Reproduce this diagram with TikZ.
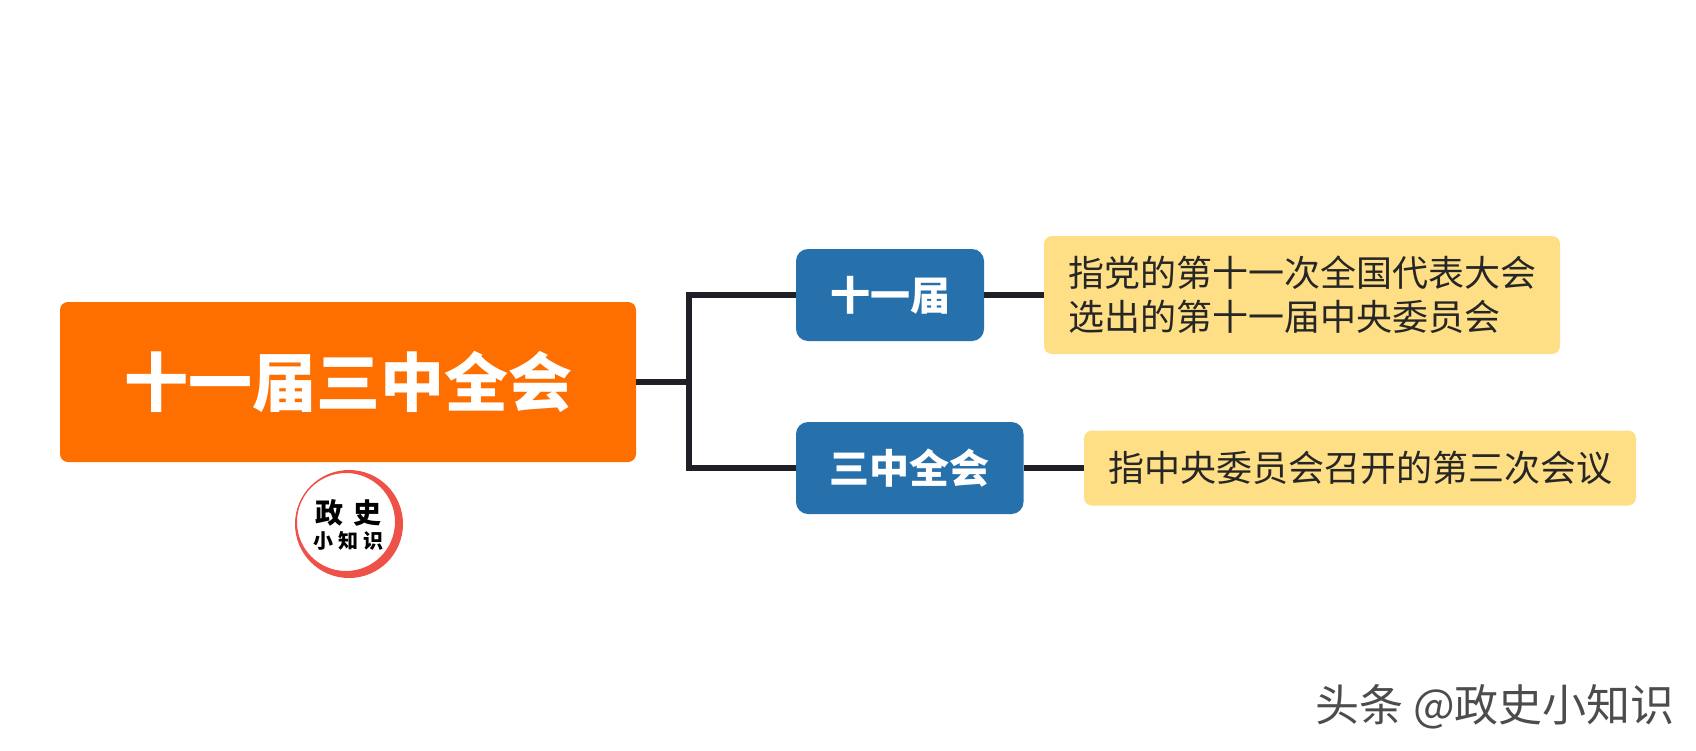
\documentclass[tikz,border=0pt]{standalone}
\usepackage{fontspec}
\setmainfont{Noto Sans CJK SC}
\definecolor{orangebox}{HTML}{FF6F00}
\definecolor{bluebox}{HTML}{2670AC}
\definecolor{yellowbox}{HTML}{FFDF85}
\definecolor{linkcol}{HTML}{1F1F28}
\definecolor{ringcol}{HTML}{EE5148}
\tikzset{
  titlebox/.style={fill=orangebox,text=white,rounded corners=4pt,inner sep=0pt,font=\bfseries\fontsize{32}{36}\selectfont},
  termbox/.style={fill=bluebox,text=white,rounded corners=6pt,inner sep=0pt,minimum height=46pt,font=\bfseries\fontsize{20}{24}\selectfont},
  notebox/.style={fill=yellowbox,text=black!85,rounded corners=4pt,inner sep=0pt,font=\fontsize{18}{22}\selectfont,align=left},
  link/.style={draw=linkcol,line width=3pt}
}
\begin{document}
\begin{tikzpicture}[x=0.5pt,y=-0.5pt]
\useasboundingbox (0,0) rectangle (1696,750);
\node[titlebox,minimum width=288pt,minimum height=80pt] (title) at (348,382) {\raisebox{1pt}{十一届三中全会}};
\node[termbox,minimum width=94pt] (term) at (890,295) {\raisebox{0.5pt}{十一届}};
\node[termbox,minimum width=113.75pt] (plenum) at (909.75,468) {\raisebox{0.5pt}{三中全会}};
\node[notebox,minimum width=258pt,minimum height=59pt] (termnote) at (1302,295) {指党的第十一次全国代表大会\\选出的第十一届中央委员会};
\node[notebox,minimum width=276pt,minimum height=37.5pt] (plenumnote) at (1360,468) {指中央委员会召开的第三次会议};
\coordinate (junc) at (689,382);
\draw[link] (title.east) -- (junc);
\draw[link] (junc) |- (term.west);
\draw[link] (junc) |- (plenum.west);
\draw[link] (term.east) -- (termnote.west);
\draw[link] (plenum.east) -- (plenumnote.west);
% logo
\fill[ringcol,even odd rule] (349,524) circle[radius=27pt] (346,522) circle[radius=24.5pt];
\node[inner sep=0pt,font=\bfseries\fontsize{14}{16}\selectfont] (logotop) at (348,513) {政\hspace{5pt}史};
\node[inner sep=0pt,font=\bfseries\fontsize{10}{12}\selectfont] (logobot) at (348,541) {小\hspace{2.5pt}知\hspace{2.5pt}识};
% watermark
\node[inner sep=0pt,text=black!70,font=\fontsize{22}{26}\selectfont] (mark) at (1495,707) {头条 @政史小知识};
\end{tikzpicture}
\end{document}
